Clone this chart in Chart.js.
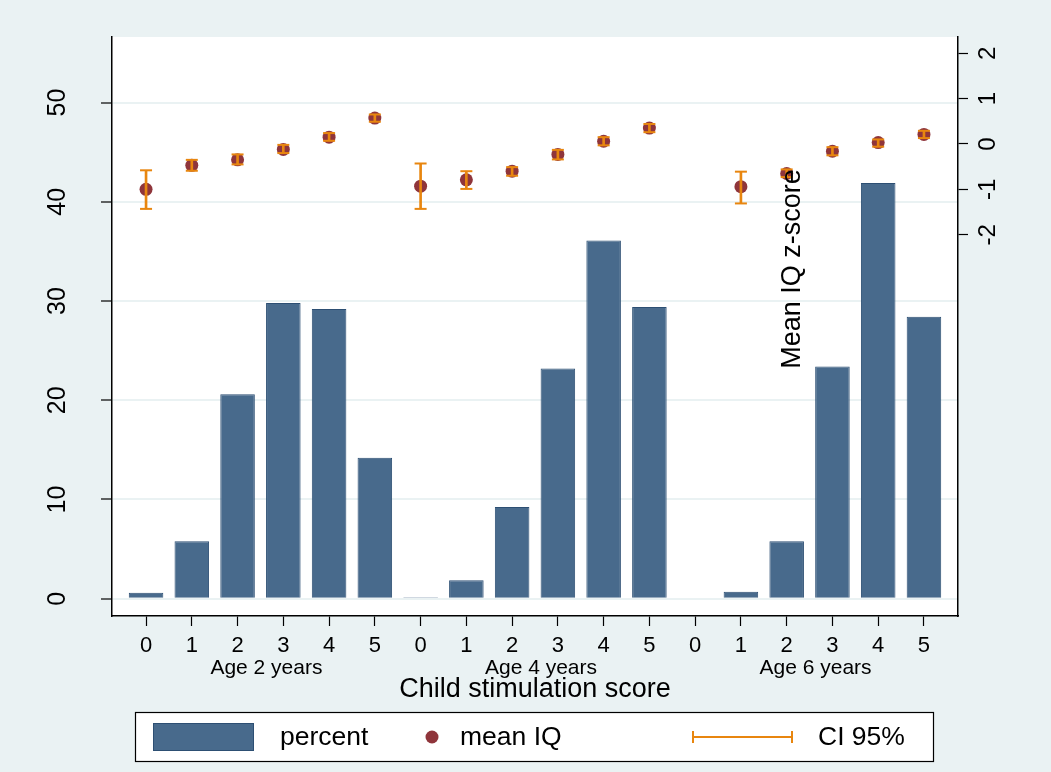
<!DOCTYPE html>
<html>
<head>
<meta charset="utf-8">
<title>Child stimulation score and mean IQ</title>
<script src="https://cdn.jsdelivr.net/npm/chart.js@4.4.1/dist/chart.umd.min.js"></script>
<style>
  html, body { margin: 0; padding: 0; background: #eaf2f3; }
  #wrap { width: 1051px; height: 772px; }
</style>
</head>
<body>
<div id="wrap"><canvas id="chart" width="1051" height="772"></canvas></div>
<script>
// categories: stimulation score within each age group
const scoreLabels = ["0", "1", "2", "3", "4", "5", "0", "1", "2", "3", "4", "5", "0", "1", "2", "3", "4", "5"];
const ageGroups = ["Age 2 years", "Age 4 years", "Age 6 years"];

// percent of children (left axis)
const percent = [0.6, 5.8, 20.6, 29.8, 29.2, 14.2,
                 0.15, 1.85, 9.25, 23.2, 36.1, 29.4,
                 null, 0.7, 5.8, 23.4, 41.9, 28.4];

// mean IQ z-score and 95% CI (right axis)
const meanIQ = [-1.00, -0.47, -0.35, -0.12, 0.15, 0.57,
                -0.93, -0.79, -0.60, -0.23, 0.06, 0.35,
                null, -0.94, -0.65, -0.16, 0.03, 0.21];
const ciLow = [-1.43, -0.59, -0.45, -0.20, 0.07, 0.49,
               -1.43, -0.99, -0.70, -0.34, -0.03, 0.26,
               null, -1.31, -0.73, -0.25, -0.06, 0.13];
const ciHigh = [-0.58, -0.35, -0.23, -0.02, 0.24, 0.65,
                -0.43, -0.60, -0.51, -0.13, 0.15, 0.44,
                null, -0.61, -0.56, -0.07, 0.10, 0.29];

const leftTicks = [0, 10, 20, 30, 40, 50];
const rightTicks = [-2, -1, 0, 1, 2];

const BG = "#eaf2f3";
const BAR = "#486a8c";
const BAR_EDGE = "#2d4f73";
const DOT = "#8f353b";
const CI = "#e8860f";
const FONT = "'Liberation Sans', Arial, Helvetica, sans-serif";

Chart.defaults.font.family = FONT;
Chart.defaults.color = "#000";

const pts = (arr) => arr.map((v, i) => ({ x: i, y: v }));

// keep the plot box fixed: no label overhang padding
const noPadY = (w) => (s) => { s.width = w; s.paddingTop = 0; s.paddingBottom = 0; };
const noPadX = (h) => (s) => { s.height = h; s.paddingLeft = 0; s.paddingRight = 0; };

const bgPlugin = {
  id: "bg",
  beforeDraw(chart) {
    const { ctx, chartArea: a } = chart;
    ctx.save();
    ctx.fillStyle = BG;
    ctx.fillRect(0, 0, chart.width, chart.height);
    ctx.fillStyle = "#fff";
    ctx.fillRect(a.left, a.top, a.right - a.left, a.bottom - a.top);
    ctx.restore();
  }
};

// axis title of the right scale, Stata puts it inside the plot
const zTitle = {
  id: "ztitle",
  afterDatasetsDraw(chart) {
    const ctx = chart.ctx;
    ctx.save();
    ctx.translate(800, 269);
    ctx.rotate(-Math.PI / 2);
    ctx.font = "27px " + FONT;
    ctx.fillStyle = "#000";
    ctx.textAlign = "center";
    ctx.textBaseline = "alphabetic";
    ctx.fillText("Mean IQ z-score", 0, 0);
    ctx.restore();
  }
};

// boxed legend under the plot
const legendBox = {
  id: "legendBox",
  afterDraw(chart) {
    const ctx = chart.ctx;
    const y = 737;
    ctx.save();
    ctx.fillStyle = "#fff";
    ctx.fillRect(135, 712, 798, 49);
    ctx.strokeStyle = "#000";
    ctx.lineWidth = 1.2;
    ctx.strokeRect(135.5, 712.5, 798, 49);

    ctx.fillStyle = BAR;
    ctx.fillRect(153, 723, 100, 27);
    ctx.strokeStyle = BAR_EDGE;
    ctx.lineWidth = 1;
    ctx.strokeRect(153.5, 723.5, 100, 27);

    ctx.fillStyle = DOT;
    ctx.beginPath();
    ctx.arc(432, y, 6.5, 0, Math.PI * 2);
    ctx.fill();

    ctx.strokeStyle = CI;
    ctx.lineWidth = 2;
    ctx.beginPath();
    ctx.moveTo(692, y); ctx.lineTo(793, y);
    ctx.moveTo(693, y - 6); ctx.lineTo(693, y + 6);
    ctx.moveTo(792, y - 6); ctx.lineTo(792, y + 6);
    ctx.stroke();

    ctx.fillStyle = "#000";
    ctx.font = "26.5px " + FONT;
    ctx.textBaseline = "middle";
    ctx.textAlign = "left";
    ctx.fillText("percent", 280, y + 1);
    ctx.fillText("mean IQ", 460, y + 1);
    ctx.fillText("CI 95%", 818, y + 1);
    ctx.restore();
  }
};

new Chart(document.getElementById("chart"), {
  type: "bar",
  data: {
    datasets: [
      {
        label: "percent",
        data: pts(percent),
        xAxisID: "x",
        yAxisID: "y",
        backgroundColor: BAR,
        borderColor: BAR_EDGE,
        borderWidth: 1,
        grouped: false,
        categoryPercentage: 1,
        barPercentage: 0.755,
        order: 4
      },
      {
        type: "scatter",
        label: "mean IQ",
        data: pts(meanIQ),
        xAxisID: "x",
        yAxisID: "y2",
        backgroundColor: DOT,
        borderWidth: 0,
        pointRadius: 6.5,
        order: 3
      },
      {
        label: "CI 95%",
        data: ciLow.map((v, i) => ({ x: i, y: v === null ? null : [v, ciHigh[i]] })),
        xAxisID: "x",
        yAxisID: "y2",
        backgroundColor: CI,
        borderWidth: 0,
        grouped: false,
        barThickness: 2,
        order: 2
      },
      {
        type: "scatter",
        label: "CI low",
        data: pts(ciLow),
        xAxisID: "x",
        yAxisID: "y2",
        pointStyle: "line",
        pointRadius: 6,
        borderColor: CI,
        borderWidth: 2,
        order: 1
      },
      {
        type: "scatter",
        label: "CI high",
        data: pts(ciHigh),
        xAxisID: "x",
        yAxisID: "y2",
        pointStyle: "line",
        pointRadius: 6,
        borderColor: CI,
        borderWidth: 2,
        order: 1
      }
    ]
  },
  options: {
    responsive: false,
    animation: false,
    events: [],
    layout: { padding: { top: 37, left: 0, right: 0, bottom: 66 } },
    plugins: { legend: { display: false }, tooltip: { enabled: false } },
    scales: {
      x: {
        type: "linear",
        position: "bottom",
        offset: false,
        min: -0.744,
        max: 17.744,
        afterBuildTicks: (s) => { s.ticks = scoreLabels.map((_, i) => ({ value: i })); },
        afterFit: noPadX(40),
        grid: { offset: false, drawOnChartArea: false, tickColor: "#000", tickLength: 10, tickWidth: 1.2 },
        border: { color: "#000", width: 1.5 },
        ticks: {
          callback: (v, i) => scoreLabels[i],
          font: { size: 22 },
          padding: 7,
          maxRotation: 0,
          autoSkip: false
        }
      },
      xg: {
        type: "linear",
        position: "bottom",
        offset: false,
        min: -0.744,
        max: 17.744,
        afterBuildTicks: (s) => { s.ticks = ageGroups.map((_, i) => ({ value: i * 6 + 2.5 })); },
        afterFit: noPadX(50),
        grid: { display: false, drawTicks: false, offset: false },
        border: { display: false },
        ticks: {
          callback: (v, i) => ageGroups[i],
          font: { size: 21 },
          padding: 0,
          labelOffset: 6,
          maxRotation: 0,
          autoSkip: false
        },
        title: {
          display: true,
          text: "Child stimulation score",
          font: { size: 27 },
          padding: { top: 0, bottom: 0 }
        }
      },
      y: {
        position: "left",
        min: -1.74,
        max: 56.6,
        afterBuildTicks: (s) => { s.ticks = leftTicks.map((v) => ({ value: v })); },
        afterFit: noPadY(112),
        grid: { color: BG, lineWidth: 2, tickColor: "#000", tickLength: 11, tickWidth: 1.2 },
        border: { color: "#000", width: 1.5 },
        ticks: { font: { size: 25 }, minRotation: 90, maxRotation: 90, crossAlign: "center", padding: 29 }
      },
      y2: {
        position: "right",
        min: -10.4,
        max: 2.357,
        afterBuildTicks: (s) => { s.ticks = rightTicks.map((v) => ({ value: v })); },
        afterFit: noPadY(93),
        grid: { drawOnChartArea: false, tickColor: "#000", tickLength: 10, tickWidth: 1.2 },
        border: { color: "#000", width: 1.5 },
        ticks: { font: { size: 24 }, minRotation: 90, maxRotation: 90, crossAlign: "center", padding: 10 }
      }
    }
  },
  plugins: [bgPlugin, zTitle, legendBox]
});
</script>
</body>
</html>
